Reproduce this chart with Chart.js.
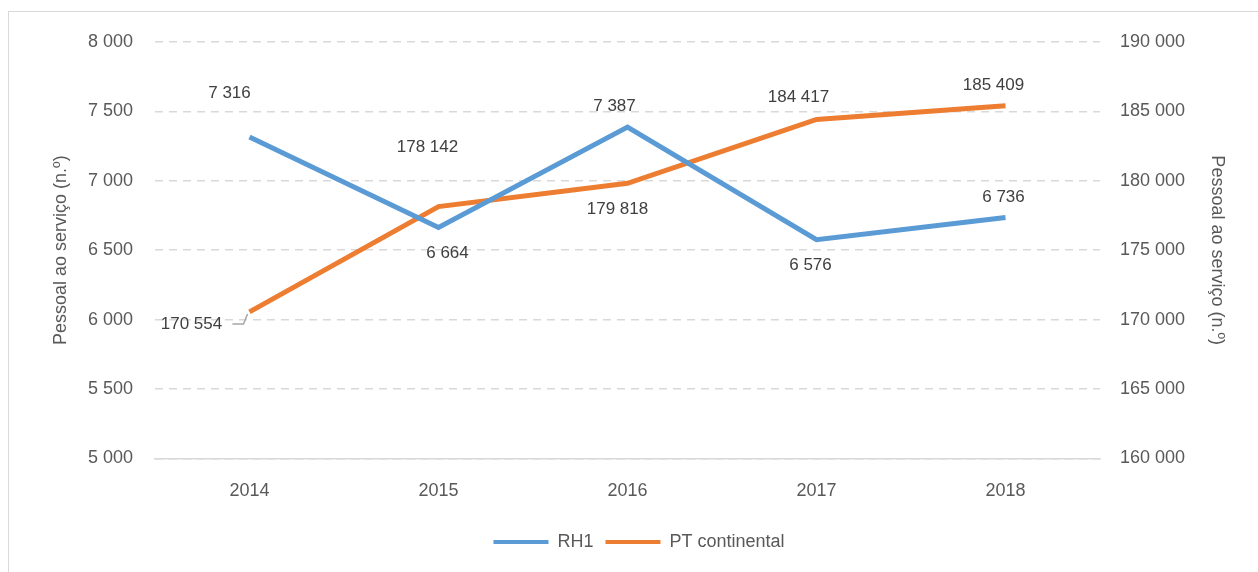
<!DOCTYPE html>
<html>
<head>
<meta charset="utf-8">
<script src="https://cdn.jsdelivr.net/npm/chart.js@4.4.0/dist/chart.umd.min.js"></script>
<style>
  body { margin: 0; background: #fff; }
  #wrap { position: absolute; left: 8px; top: 11px; width: 1270px; height: 580px; border: 1px solid #d9d9d9; }
  #box { position: absolute; left: 0; top: 0; width: 1258px; height: 572px; }
</style>
</head>
<body>
<div id="wrap"></div>
<div id="box"><canvas id="grafico"></canvas></div>
<script>
const anos = ["2014", "2015", "2016", "2017", "2018"];
const rh1 = [7316, 6664, 7387, 6576, 6736];
const ptContinental = [170554, 178142, 179818, 184417, 185409];
const ticksEsq = [5000, 5500, 6000, 6500, 7000, 7500, 8000];
const ticksDir = [160000, 165000, 170000, 175000, 180000, 185000, 190000];

const fonte = "'Liberation Sans', Arial, sans-serif";

function formata(v) {
  return String(v).replace(/\B(?=(\d{3})+(?!\d))/g, " ");
}

// posicao dos rotulos (dx, dy) em relacao ao ponto
const posRotulos = [
  [[-20, -44], [9, 26], [-13, -21], [-6, 26], [-2, -20]],
  [[-58, 12], [-11, -59], [-10, 26], [-18, -22], [-12, -20]]
];

const rotulos = {
  id: "rotulos",
  afterDatasetsDraw(chart) {
    const ctx = chart.ctx;
    ctx.save();
    ctx.font = "17px " + fonte;
    ctx.fillStyle = "#404040";
    ctx.textAlign = "center";
    ctx.textBaseline = "middle";
    chart.data.datasets.forEach((ds, i) => {
      const meta = chart.getDatasetMeta(i);
      meta.data.forEach((p, j) => {
        const [dx, dy] = posRotulos[i][j];
        ctx.fillText(formata(ds.data[j]), p.x + dx, p.y + dy);
      });
    });
    // linha de chamada do 170 554
    const p0 = chart.getDatasetMeta(1).data[0];
    ctx.strokeStyle = "#a6a6a6";
    ctx.lineWidth = 1.5;
    ctx.beginPath();
    ctx.moveTo(p0.x - 17, p0.y + 12);
    ctx.lineTo(p0.x - 6, p0.y + 12);
    ctx.lineTo(p0.x - 2, p0.y + 2);
    ctx.stroke();
    ctx.restore();
  }
};

new Chart(document.getElementById("grafico"), {
  type: "line",
  data: {
    labels: anos,
    datasets: [
      {
        label: "RH1",
        data: rh1,
        yAxisID: "y",
        borderColor: "#5B9BD5",
        backgroundColor: "#5B9BD5",
        borderWidth: 5,
        pointRadius: 0,
        tension: 0
      },
      {
        label: "PT continental",
        data: ptContinental,
        yAxisID: "y1",
        borderColor: "#ED7D31",
        backgroundColor: "#ED7D31",
        borderWidth: 5,
        pointRadius: 0,
        tension: 0
      }
    ]
  },
  options: {
    responsive: true,
    maintainAspectRatio: false,
    animation: false,
    layout: { padding: { left: 50, right: 30, top: 42, bottom: 11 } },
    scales: {
      x: {
        offset: true,
        afterFit(s) { s.height -= 3; },
        grid: { display: false, drawTicks: false },
        border: { color: "#d9d9d9", width: 1.5 },
        ticks: { color: "#595959", font: { family: fonte, size: 18 }, padding: 22 }
      },
      y: {
        position: "left",
        min: 5000,
        max: 8000,
        afterBuildTicks(s) { s.ticks = ticksEsq.map(v => ({ value: v })); },
        afterFit(s) { s.width = 105; },
        grid: { color: "#d9d9d9", lineWidth: 1.5, drawTicks: false },
        border: { display: false, dash: [8, 6] },
        ticks: { color: "#595959", font: { family: fonte, size: 18 }, padding: 22, callback: v => formata(v) },
        title: { display: true, text: "Pessoal ao serviço (n.º)", color: "#595959", font: { family: fonte, size: 18 }, padding: 0 }
      },
      y1: {
        position: "right",
        min: 160000,
        max: 190000,
        afterBuildTicks(s) { s.ticks = ticksDir.map(v => ({ value: v })); },
        afterFit(s) { s.width = 128; },
        grid: { drawOnChartArea: false, drawTicks: false },
        border: { display: false },
        ticks: { color: "#595959", font: { family: fonte, size: 18 }, padding: 20, callback: v => formata(v) },
        title: { display: true, text: "Pessoal ao serviço (n.º)", color: "#595959", font: { family: fonte, size: 18 }, padding: 0 }
      }
    },
    plugins: {
      legend: {
        position: "bottom",
        labels: {
          color: "#595959",
          font: { family: fonte, size: 18 },
          boxWidth: 55,
          boxHeight: 4,
          padding: 12,
          generateLabels(chart) {
            return Chart.defaults.plugins.legend.labels.generateLabels(chart).map(l => ({ ...l, lineWidth: 0 }));
          }
        }
      },
      tooltip: { enabled: false }
    }
  },
  plugins: [rotulos]
});
</script>
</body>
</html>
